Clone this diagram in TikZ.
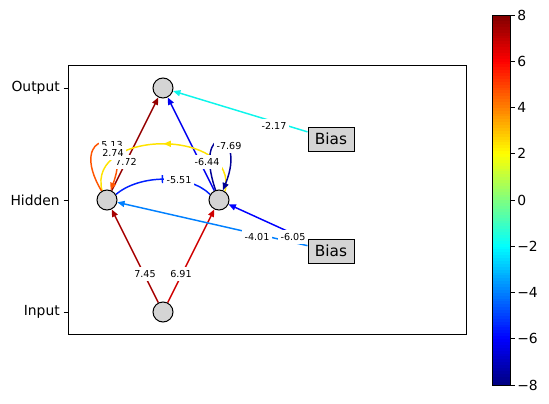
\documentclass[tikz,border=0pt]{standalone}
\usepackage{fontspec}
\setmainfont{DejaVu Sans}
\usetikzlibrary{arrows.meta,calc,decorations.markings}
\pgfdeclarelayer{edgelayer}
\pgfsetlayers{edgelayer,main}

\definecolor{nodegray}{gray}{0.83}
\definecolor{c745}{rgb}{0.65,0,0}
\definecolor{c691}{rgb}{0.81,0,0}
\definecolor{c772}{rgb}{0.58,0,0}
\definecolor{c644}{rgb}{0,0,0.94}
\definecolor{c513}{rgb}{1,0.33,0}
\definecolor{c769}{rgb}{0,0,0.59}
\definecolor{c274}{rgb}{1,0.89,0}
\definecolor{c551}{rgb}{0,0.12,1}
\definecolor{c217}{rgb}{0.05,0.96,0.92}
\definecolor{c401}{rgb}{0,0.5,1}
\definecolor{c605}{rgb}{0,0,1}

\begin{document}
\begin{tikzpicture}[x=0.75pt,y=-0.75pt,
  neuron/.style={circle, draw=black, line width=0.75pt, fill=nodegray, minimum size=15pt, inner sep=0pt},
  biasbox/.style={rectangle, draw=black, line width=0.75pt, fill=nodegray, minimum width=34.5pt, minimum height=18pt, inner sep=0pt, font=\fontsize{11.5}{12}\selectfont},
  edge/.style={line width=1.1pt, -{Triangle[length=5.5pt,width=4.5pt]}},
  plainedge/.style={line width=1.1pt},
  elabel/.style={fill=white, inner xsep=2pt, inner ysep=2.6pt, font=\fontsize{7.2}{8}\selectfont},
  ticklab/.style={font=\fontsize{10.4}{12}\selectfont},
  midarrow/.style={postaction={decorate}, decoration={markings, mark=at position 0.5 with {\arrow{Triangle[length=5.5pt,width=4.5pt]}}}},
  midbar/.style={postaction={decorate}, decoration={markings, mark=at position 0.5 with {\arrow{Bar[width=6pt,line width=1.1pt]}}}}
]
\useasboundingbox (0,0) rectangle (549,403);

% axes frame and ticks
\draw[line width=0.6pt] (68,65) rectangle (466,334);
\foreach \yy/\txt in {88/Output,200/Hidden,312/Input}{
  \draw[line width=0.6pt] (63.5,\yy) -- (68,\yy);
  \node[ticklab, anchor=east, inner sep=0pt] at (60,\yy) {\txt};
}

% nodes
\node[neuron] (out) at (163,88) {};
\node[neuron] (h1) at (107,200) {};
\node[neuron] (h2) at (219,200) {};
\node[neuron] (in) at (163,312) {};
\node[biasbox] (b1) at (331,139) {Bias};
\node[biasbox] (b2) at (331,251) {Bias};

% edges
\begin{pgfonlayer}{edgelayer}
\draw[edge,c745] (in) -- (h1);
\draw[edge,c691] (in) -- (h2);
\draw[edge,c772] (h1) -- (out);
\draw[edge,c644] (h2) -- (out);
\draw[edge,c217] (b1) -- (out);
\draw[edge,c401] (b2) -- (h1);
\draw[edge,c605] (b2) -- (h2);
\draw[plainedge,c274,midarrow] (h2.55) .. controls (240,128) and (86,128) .. (h1.118);
\draw[plainedge,c551,midbar] (h1.32) .. controls (140,174) and (190,174) .. (h2.148);
\draw[edge,c513] (h1) .. controls (65,130) and (135,125) .. (h1);
\draw[edge,c769] (h2) .. controls (192,122) and (248,128) .. (h2);
\end{pgfonlayer}

% edge labels
\node[elabel] (l745) at (145,274) {7.45};
\node[elabel] (l691) at (181,274) {6.91};
\node[elabel] (l217) at (274,126) {-2.17};
\node[elabel] (l401) at (257,237) {-4.01};
\node[elabel] (l605) at (293,237) {-6.05};
\node[elabel] (l551) at (179,180) {-5.51};
\node[elabel] (l769) at (229,146) {-7.69};
\node[elabel] (l644) at (207,162) {-6.44};
\node[elabel] (l772) at (126,162) {7.72};
\node[elabel] (l513) at (112,145) {5.13};
\node[elabel] (l274) at (113,153) {2.74};

% colorbar
\begin{scope}
\clip (492,15) rectangle (510,385);
\foreach \i in {0,...,127}{
  \pgfmathsetmacro\jetT{(\i+0.5)/128}
  \pgfmathsetmacro\jetR{max(0,min(1,1.5-abs(4*\jetT-3)))}
  \pgfmathsetmacro\jetG{max(0,min(1,1.5-abs(4*\jetT-2)))}
  \pgfmathsetmacro\jetB{max(0,min(1,1.5-abs(4*\jetT-1)))}
  \definecolor{jetc}{rgb}{\jetR,\jetG,\jetB}
  \fill[jetc] (492,{385-\i*2.890625+0.3}) rectangle (510,{385-(\i+1)*2.890625-0.3});
}
\end{scope}
\draw[line width=0.6pt] (492,15) rectangle (510,385);
\foreach \v/\s in {8/8,6/6,4/4,2/2,0/0,-2/−2,-4/−4,-6/−6,-8/−8}{
  \draw[line width=0.6pt] (510,{15+(8-\v)*23.125}) -- (514.5,{15+(8-\v)*23.125});
  \node[ticklab, anchor=west, inner sep=0pt] at (517,{15+(8-\v)*23.125}) {\s};
}
\end{tikzpicture}
\end{document}
